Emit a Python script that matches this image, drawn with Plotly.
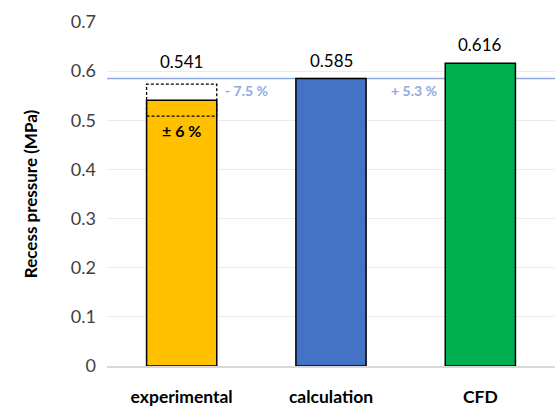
import plotly.graph_objects as go

# Recess pressure values per method (MPa)
categories = ["experimental", "calculation", "CFD"]
pressure = [0.541, 0.585, 0.616]
bar_colors = ["#FFC000", "#4472C4", "#00B050"]
value_labels = ["0.541", "0.585", "0.616"]
exp_uncertainty = 0.06          # ± 6 % on the experimental value
deviation_labels = ["- 7.5 %", "+ 5.3 %"]
y_ticks = [0, 0.1, 0.2, 0.3, 0.4, 0.5, 0.6, 0.7]

FONT = "Lato"
REF_COLOR = "#8FAADC"
HALF_W = 0.235

fig = go.Figure()
fig.add_trace(go.Bar(
    x=categories, y=pressure,
    marker=dict(color=bar_colors, line=dict(color="black", width=1.5)),
    width=2 * HALF_W, showlegend=False, hoverinfo="x+y",
))

# reference line at the calculated value
fig.add_shape(type="line", xref="paper", yref="y", x0=0, x1=1,
              y0=pressure[1], y1=pressure[1],
              line=dict(color=REF_COLOR, width=1.5), layer="below")

# dashed uncertainty band around the experimental value
lo = pressure[0] * (1 - exp_uncertainty)
hi = pressure[0] * (1 + exp_uncertainty)
fig.add_trace(go.Scatter(
    x=[-HALF_W, HALF_W, HALF_W, -HALF_W, -HALF_W],
    y=[lo, lo, hi, hi, lo],
    mode="lines", line=dict(color="black", width=1.3, dash="3px,2px"),
    showlegend=False, hoverinfo="skip", xaxis="x2",
))

# value labels
label_y = [hi + 0.021, pressure[1] + 0.012, pressure[2] + 0.012]
for cat, txt, yv in zip(categories, value_labels, label_y):
    fig.add_annotation(x=cat, y=yv, text=txt, showarrow=False, yanchor="bottom",
                       font=dict(family=FONT, size=17, color="black"))

fig.add_annotation(x=0, y=lo, text="<b>± 6 %</b>", showarrow=False, yanchor="top",
                   yshift=-3, font=dict(family=FONT, size=16, color="black"))
fig.add_annotation(x=HALF_W, y=(pressure[0] + hi) / 2 + 0.003, text="<b>" + deviation_labels[0] + "</b>",
                   showarrow=False, xanchor="left", xshift=6,
                   font=dict(family=FONT, size=14, color=REF_COLOR))
fig.add_annotation(x=2 - HALF_W, y=(pressure[0] + hi) / 2 + 0.003, text="<b>" + deviation_labels[1] + "</b>",
                   showarrow=False, xanchor="right", xshift=-6,
                   font=dict(family=FONT, size=14, color=REF_COLOR))

fig.update_layout(
    width=555, height=416,
    margin=dict(l=107, r=0, t=22, b=50),
    paper_bgcolor="white", plot_bgcolor="white",
    font=dict(family=FONT, color="#404040"),
    xaxis=dict(
        tickvals=categories,
        ticktext=["<b>" + c + "</b>" for c in categories],
        tickfont=dict(family=FONT, size=17.5, color="black"),
        showline=True, linecolor="#D9D9D9", linewidth=1.5,
        ticks="", showgrid=False, range=[-0.5, 2.5], ticklabelstandoff=14,
    ),
    xaxis2=dict(overlaying="x", range=[-0.5, 2.5], visible=False),
    yaxis=dict(
        title=dict(text="<b>Recess pressure (MPa)</b>",
                   font=dict(family=FONT, size=17, color="black"), standoff=28),
        range=[0, 0.7], tickvals=y_ticks,
        ticktext=["0" if v == 0 else f"{v:.1f}" for v in y_ticks],
        tickfont=dict(family=FONT, size=18, color="#404040"),
        showgrid=True, gridcolor="#EBEBEB", gridwidth=1,
        zeroline=False, ticks="", ticklabelstandoff=10,
    ),
)

fig.write_html("out.html")
